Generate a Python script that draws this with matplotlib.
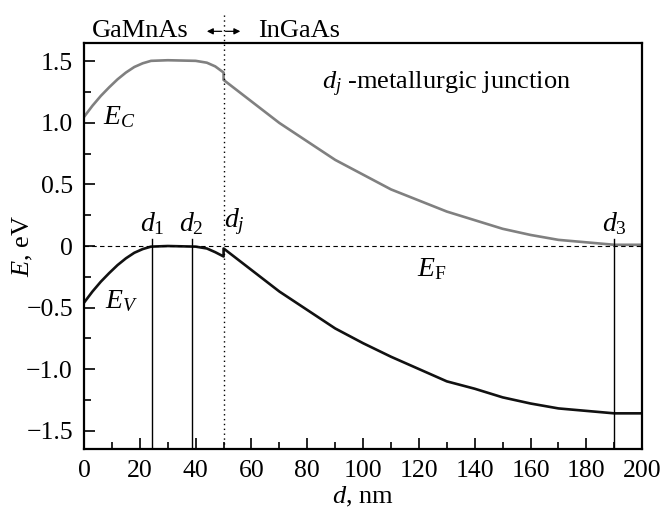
import matplotlib.pyplot as plt
from matplotlib.ticker import MultipleLocator

plt.rcParams['font.family'] = ['Liberation Serif', 'DejaVu Serif']
plt.rcParams['mathtext.fontset'] = 'custom'
plt.rcParams['mathtext.rm'] = 'Liberation Serif'
plt.rcParams['mathtext.it'] = 'Liberation Serif:italic'

# Conduction band E_C (eV) vs depth d (nm)
ec_x = [0, 3, 6, 9, 12, 15, 18, 21, 24, 30, 40, 44, 47, 50,
        50, 60, 70, 80, 90, 100, 110, 120, 130, 140, 150, 160, 170, 180, 190, 200]
ec_y = [1.05, 1.14, 1.22, 1.29, 1.355, 1.41, 1.455, 1.485, 1.505, 1.51, 1.505, 1.49, 1.46, 1.41,
        1.35, 1.175, 1.0, 0.85, 0.70, 0.58, 0.46, 0.37, 0.28, 0.21, 0.14, 0.09, 0.05, 0.03, 0.01, 0.01]
# Valence band E_V
ev_x = ec_x
ev_y = [-0.46, -0.37, -0.29, -0.22, -0.155, -0.10, -0.055, -0.025, -0.005, 0.0, -0.005, -0.02, -0.05, -0.085,
        -0.02, -0.195, -0.37, -0.52, -0.67, -0.79, -0.90, -1.0, -1.10, -1.16, -1.23, -1.28, -1.32, -1.34, -1.36, -1.36]

d_marks = [24.5, 38.5, 190]
d_names = ['$d_1$', '$d_2$', '$d_3$']
d_junction = 50

yticks = [-1.5, -1.0, -0.5, 0, 0.5, 1.0, 1.5]
ytick_labels = ['\u22121.5', '\u22121.0', '\u22120.5', '0', '0.5', '1.0', '1.5']
xticks = [0, 20, 40, 60, 80, 100, 120, 140, 160, 180, 200]

fs = 19

fig = plt.figure(figsize=(6.62, 5.12), dpi=100)
ax = fig.add_axes([0.127, 0.123, 0.843, 0.793])

ax.plot(ec_x, ec_y, color='#808080', lw=1.9)
ax.plot(ev_x, ev_y, color='#111111', lw=1.9)
ax.axhline(0, color='black', lw=0.8, ls=(0, (4, 3)))

ymin, ymax = -1.65, 1.65
for x in d_marks:
    ax.plot([x, x], [ymin, 0.06], color='black', lw=1.0)
ax.plot([d_junction, d_junction], [ymin, 1.89], color='black', lw=1.0,
        ls=(0, (1, 2.5)), clip_on=False)

# layer labels with arrows above the frame
arrow = dict(arrowstyle='-|>', color='black', lw=0.9, mutation_scale=9, shrinkA=0, shrinkB=0)
ax.annotate('', xy=(44, 1.745), xytext=(49.3, 1.745), annotation_clip=False, arrowprops=arrow)
ax.annotate('', xy=(56, 1.745), xytext=(50.7, 1.745), annotation_clip=False, arrowprops=arrow)
ax.text(37.5, 1.75, 'GaMnAs', ha='right', va='center', fontsize=fs)
ax.text(62.3, 1.75, 'InGaAs', ha='left', va='center', fontsize=fs)

ax.text(85.3, 1.31, '$d_j$ -metallurgic junction', ha='left', va='center', fontsize=fs)
ax.text(6.8, 1.05, '$E_C$', ha='left', va='center', fontsize=fs + 1)
ax.text(7.5, -0.45, '$E_V$', ha='left', va='center', fontsize=fs + 1)
ax.text(124.7, -0.19, r'$E_\mathrm{F}$', ha='center', va='center', fontsize=fs + 1)
for x, name in zip(d_marks, d_names):
    ax.text(x, 0.07, name, ha='center', va='bottom', fontsize=fs + 1)
ax.text(d_junction + 4, 0.07, '$d_j$', ha='center', va='bottom', fontsize=fs + 1)

ax.set_xlim(0, 200)
ax.set_ylim(ymin, ymax)
ax.set_xticks(xticks)
ax.set_yticks(yticks, ytick_labels)
ax.xaxis.set_minor_locator(MultipleLocator(10))
ax.yaxis.set_minor_locator(MultipleLocator(0.25))
ax.tick_params(which='both', direction='in', labelsize=18.5, width=1.2, top=False, right=False)
ax.tick_params(which='major', length=8)
ax.tick_params(which='minor', length=5)
ax.tick_params(axis='x', pad=8)
ax.tick_params(axis='y', pad=8)
for s in ax.spines.values():
    s.set_linewidth(1.6)

ax.set_xlabel('$d$, nm', fontsize=fs, labelpad=2)
ax.set_ylabel('$E$, eV', fontsize=fs, labelpad=-6)

fig.savefig('out.png', dpi=100)
